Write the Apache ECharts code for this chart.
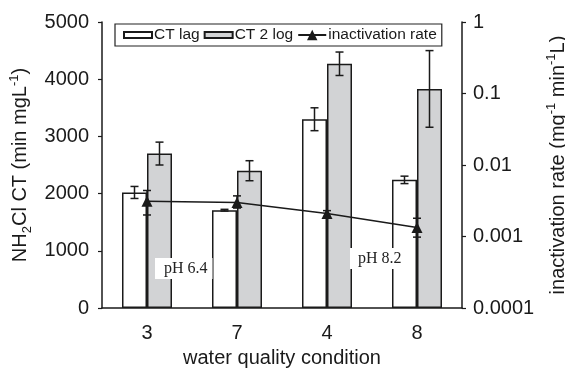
<!DOCTYPE html>
<html>
<head>
<meta charset="utf-8">
<script src="https://cdn.jsdelivr.net/npm/echarts@6/dist/echarts.min.js"></script>
<style>
  html, body { margin: 0; padding: 0; background: #fff; }
  #main { width: 565px; height: 369px; }
</style>
</head>
<body>
<div id="main"></div>
<script>
// water quality conditions on the x axis
var categories = ['3', '7', '4', '8'];

// NH2Cl CT values (min mg/L)
var ctLag = [2020, 1710, 3300, 2240];
var ctLagErr = [105, 15, 200, 65];
var ct2Log = [2700, 2400, 4270, 3830];
var ct2LogErr = [200, 175, 205, 670];

// inactivation rate (mg-1 min-1 L), log axis
var rate = [0.0031, 0.003, 0.0021, 0.00134];
var rateLow = [0.002, 0.0025, 0.0019, 0.00098];
var rateHigh = [0.0044, 0.0037, 0.0023, 0.0018];

var rateTicks = ['0.0001', '0.001', '0.01', '0.1', '1'];

var FONT = '"Liberation Sans", Arial, sans-serif';
var INK = '#1a1a1a';

// error bars drawn with a custom series, shift = px offset from category centre
function errorBars(name, yIdx, lows, highs, shift) {
  return {
    name: name,
    type: 'custom',
    yAxisIndex: yIdx,
    silent: true,
    z: 5,
    encode: { x: 0, y: [1, 2] },
    data: lows.map(function (l, i) { return [i, l, highs[i]]; }),
    renderItem: function (params, api) {
      var lo = api.coord([api.value(0), api.value(1)]);
      var hi = api.coord([api.value(0), api.value(2)]);
      var x = lo[0] + shift;
      var cap = 4;
      var st = { stroke: INK, lineWidth: 1.5 };
      return {
        type: 'group',
        children: [
          { type: 'line', shape: { x1: x, y1: lo[1], x2: x, y2: hi[1] }, style: st },
          { type: 'line', shape: { x1: x - cap, y1: hi[1], x2: x + cap, y2: hi[1] }, style: st },
          { type: 'line', shape: { x1: x - cap, y1: lo[1], x2: x + cap, y2: lo[1] }, style: st }
        ]
      };
    }
  };
}

var barW = 25;
var barIcon = 'path://M0,0H28V6H0Z';

var chart = echarts.init(document.getElementById('main'), null, { renderer: 'canvas' });
chart.setOption({
  animation: false,
  backgroundColor: '#fff',
  textStyle: { fontFamily: FONT, color: INK },
  grid: { left: 102, right: 103, top: 22, bottom: 61, outerBoundsMode: 'none', containLabel: false },
  legend: {
    data: [
      { name: 'CT lag', icon: barIcon },
      { name: 'CT 2 log', icon: barIcon },
      { name: 'inactivation rate' }
    ],
    left: 115,
    top: 24,
    orient: 'horizontal',
    borderColor: '#222',
    borderWidth: 1.2,
    padding: [3, 5, 3, 8],
    itemGap: 4,
    itemWidth: 28,
    itemHeight: 13,
    textStyle: { fontSize: 15.5, color: INK, fontFamily: FONT, padding: [0, 0, 0, -3] }
  },
  xAxis: {
    type: 'category',
    data: categories,
    axisLine: { lineStyle: { color: INK, width: 1.5 } },
    axisTick: { inside: true, length: 4, lineStyle: { color: INK, width: 1.2 } },
    axisLabel: { fontSize: 20, color: INK, margin: 15 },
    name: 'water quality condition',
    nameLocation: 'middle',
    nameGap: 40,
    nameTextStyle: { fontSize: 20, color: INK }
  },
  yAxis: [{
    type: 'value',
    min: 0,
    max: 5000,
    interval: 1000,
    splitLine: { show: false },
    axisLine: { show: true, lineStyle: { color: INK, width: 1.5 } },
    axisTick: { show: true, length: 4, lineStyle: { color: INK, width: 1.2 } },
    axisLabel: { fontSize: 20, color: INK, margin: 13, formatter: function (v) { return String(v); } },
    name: '{a|NH}{b|2}{a|Cl CT (min mgL}{c|-1}{a|)}',
    nameLocation: 'middle',
    nameRotate: 90,
    nameGap: 65,
    nameTextStyle: {
      rich: {
        a: { fontSize: 20, color: INK, fontFamily: FONT, lineHeight: 26, verticalAlign: 'middle' },
        b: { fontSize: 13, color: INK, fontFamily: FONT, lineHeight: 26, verticalAlign: 'bottom' },
        c: { fontSize: 13, color: INK, fontFamily: FONT, lineHeight: 26, verticalAlign: 'top' }
      }
    }
  }, {
    type: 'log',
    logBase: 10,
    min: 0.0001,
    max: 1,
    position: 'right',
    splitLine: { show: false },
    axisLine: { show: true, lineStyle: { color: INK, width: 1.5 } },
    axisTick: { show: true, length: 4, lineStyle: { color: INK, width: 1.2 } },
    axisLabel: {
      fontSize: 20, color: INK, margin: 11,
      formatter: function (v) { return rateTicks[Math.round(Math.log10(v)) + 4]; }
    },
    name: '{a|inactivation rate (mg}{c|-1}{a| min}{c|-1}{a|L)}',
    nameLocation: 'middle',
    nameRotate: 90,
    nameGap: 80,
    nameTextStyle: {
      rich: {
        a: { fontSize: 20, color: INK, fontFamily: FONT, lineHeight: 26, verticalAlign: 'middle' },
        c: { fontSize: 13, color: INK, fontFamily: FONT, lineHeight: 26, verticalAlign: 'top' }
      }
    }
  }],
  series: [{
    name: 'CT lag',
    type: 'bar',
    data: ctLag,
    barWidth: barW,
    barGap: '0%',
    itemStyle: { color: '#ffffff', borderColor: INK, borderWidth: 1.5 }
  }, {
    name: 'CT 2 log',
    type: 'bar',
    data: ct2Log,
    barWidth: barW,
    barGap: '0%',
    itemStyle: { color: '#d2d3d5', borderColor: INK, borderWidth: 1.5 }
  },
  errorBars('ctLagErr', 0, ctLag.map(function (v, i) { return v - ctLagErr[i]; }),
    ctLag.map(function (v, i) { return v + ctLagErr[i]; }), -barW / 2),
  errorBars('ct2LogErr', 0, ct2Log.map(function (v, i) { return v - ct2LogErr[i]; }),
    ct2Log.map(function (v, i) { return v + ct2LogErr[i]; }), barW / 2),
  {
    name: 'inactivation rate',
    type: 'line',
    yAxisIndex: 1,
    data: rate,
    z: 6,
    symbol: 'triangle',
    symbolSize: 11,
    itemStyle: { color: INK },
    lineStyle: { color: INK, width: 1.5 }
  },
  errorBars('rateErr', 1, rateLow, rateHigh, 0)
  ],
  graphic: [{
    type: 'text',
    left: 155,
    top: 258,
    z: 100,
    style: {
      text: 'pH 6.4',
      font: '16px "Liberation Serif", "Times New Roman", serif',
      fill: '#222',
      backgroundColor: '#fff',
      padding: [3, 5, 2, 9]
    }
  }, {
    type: 'text',
    left: 350,
    top: 248,
    z: 100,
    style: {
      text: 'pH 8.2',
      font: '16px "Liberation Serif", "Times New Roman", serif',
      fill: '#222',
      backgroundColor: '#fff',
      padding: [3, 3, 2, 8]
    }
  }]
});
</script>
</body>
</html>
